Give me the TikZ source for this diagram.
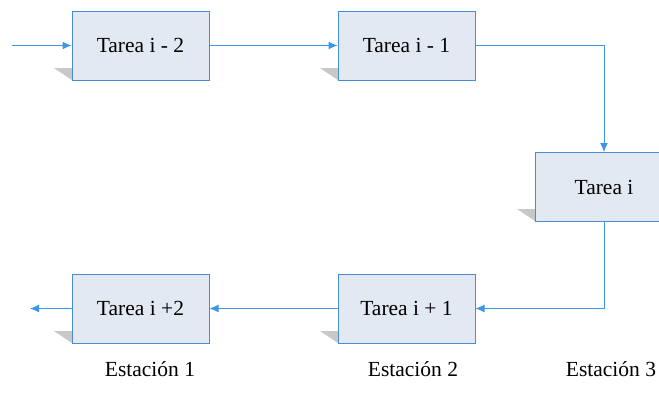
\documentclass[tikz,border=0pt]{standalone}
\usepackage{fontspec}
\setmainfont{Liberation Serif}
\usetikzlibrary{arrows.meta}
\definecolor{lineblue}{HTML}{3C96E8}
\definecolor{boxfill}{HTML}{E3E9F2}
\definecolor{boxdraw}{HTML}{4A8BD6}
\definecolor{shadowgray}{HTML}{C8C8C8}
\begin{document}
\begin{tikzpicture}[x=1pt,y=-1pt,
  tarea/.style={draw=boxdraw,fill=boxfill,line width=1pt,minimum width=137pt,minimum height=69pt,inner sep=0pt,font=\fontsize{21.5}{25}\selectfont},
  conn/.style={draw=lineblue,line width=1pt,-{Latex[length=9pt,width=8pt]}},
  est/.style={font=\fontsize{21.5}{25}\selectfont,inner sep=0pt}]
\useasboundingbox (0,0) rectangle (659,402);
\fill[shadowgray] (54,68) -- (72,68) -- (72,80) -- cycle;
\fill[shadowgray] (320,68) -- (338,68) -- (338,80) -- cycle;
\fill[shadowgray] (517,209) -- (535,209) -- (535,221) -- cycle;
\fill[shadowgray] (54,331) -- (72,331) -- (72,343) -- cycle;
\fill[shadowgray] (320,331) -- (338,331) -- (338,343) -- cycle;
\node[tarea] (t1) at (140.5,45.5) {Tarea i - 2};
\node[tarea] (t2) at (406.5,45.5) {Tarea i - 1};
\node[tarea] (t3) at (604,187) {Tarea i};
\node[tarea] (t5) at (406.5,308.5) {Tarea i + 1};
\node[tarea] (t4) at (140.5,308.5) {Tarea i +2};
\coordinate (in) at (12,45.5);
\coordinate (out) at (30,308.5);
\draw[conn] (in) -- (t1.west);
\draw[conn] (t1.east) -- (t2.west);
\draw[conn] (t2.east) -| (t3.north);
\draw[conn] (t3.south) |- (t5.east);
\draw[conn] (t5.west) -- (t4.east);
\draw[conn] (t4.west) -- (out);
\node[est] (e1) at (150,369) {Estación 1};
\node[est] (e2) at (413,369) {Estación 2};
\node[est] (e3) at (611,369) {Estación 3};
\end{tikzpicture}
\end{document}
